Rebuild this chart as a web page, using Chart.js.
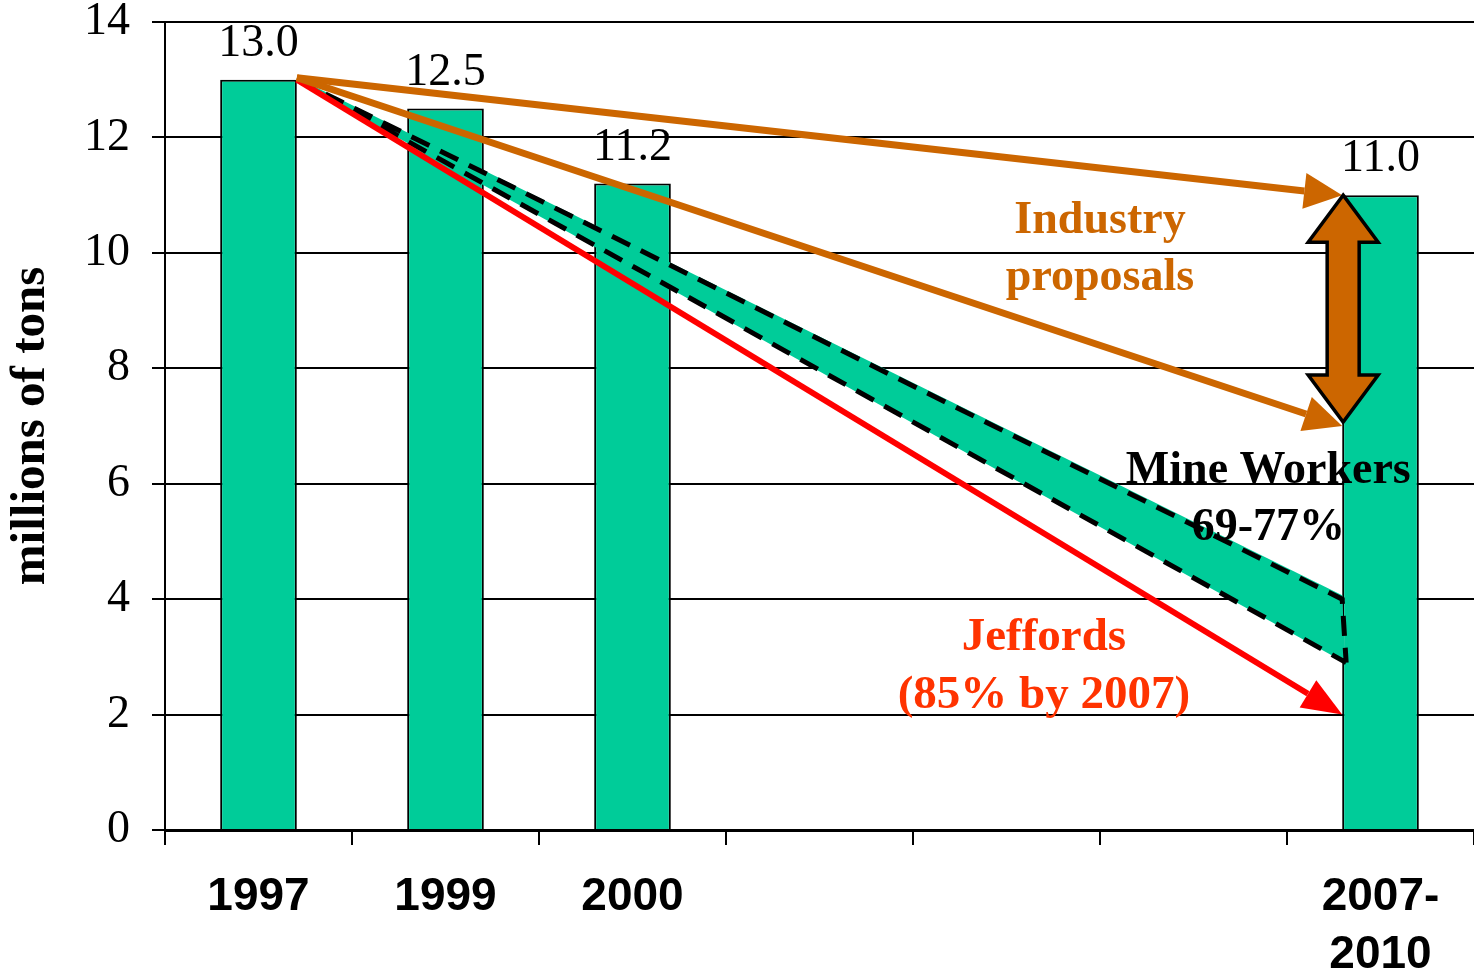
<!DOCTYPE html>
<html>
<head>
<meta charset="utf-8">
<title>millions of tons</title>
<script src="https://cdn.jsdelivr.net/npm/chart.js@4"></script>
<style>
body { margin: 0; background: #fff; }
</style>
</head>
<body>
<canvas id="myChart" width="1474" height="977"></canvas>
<script>
// données
var years = ['1997', '1999', '2000', '', '', '', ['2007-', '2010']];
var tons = [13.0, 12.5, 11.2, null, null, null, 11.0];
var yTicks = [0, 2, 4, 6, 8, 10, 12, 14];

// objectifs pour 2007-2010 (millions de tonnes)
var industryTargets = [11.0, 7.0];
var mineWorkersTargets = [4.0, 2.9];
var jeffordsTarget = 2.0;

var ORANGE = '#CC6600';
var TEAL = '#00CC99';

function arrowLine(ctx, x1, y1, x2, y2, color, width, headLen, headWidth) {
    var ang = Math.atan2(y2 - y1, x2 - x1);
    var bx = x2 - headLen * Math.cos(ang);
    var by = y2 - headLen * Math.sin(ang);
    ctx.strokeStyle = color;
    ctx.lineWidth = width;
    ctx.lineCap = 'butt';
    ctx.beginPath();
    ctx.moveTo(x1, y1);
    ctx.lineTo(bx, by);
    ctx.stroke();
    ctx.fillStyle = color;
    ctx.beginPath();
    ctx.moveTo(x2, y2);
    ctx.lineTo(bx + headWidth / 2 * Math.sin(ang), by - headWidth / 2 * Math.cos(ang));
    ctx.lineTo(bx - headWidth / 2 * Math.sin(ang), by + headWidth / 2 * Math.cos(ang));
    ctx.closePath();
    ctx.fill();
}

// flèches, bande et textes
var annotations = {
    id: 'annotations',
    afterDatasetsDraw: function(chart) {
        var ctx = chart.ctx;
        var x = chart.scales.x;
        var y = chart.scales.y;
        var bars = chart.getDatasetMeta(0).data;
        var first = bars[0];
        var last = bars[bars.length - 1];

        var sx = first.x + first.width / 2;
        var sy = y.getPixelForValue(tons[0]);
        var ex = last.x - last.width / 2;

        ctx.save();

        // bande Mine Workers
        var yUp = y.getPixelForValue(mineWorkersTargets[0]);
        var yLow = y.getPixelForValue(mineWorkersTargets[1]);
        ctx.fillStyle = TEAL;
        ctx.beginPath();
        ctx.moveTo(sx, sy - 2);
        ctx.lineTo(ex, yUp - 4);
        ctx.lineTo(ex + 3, yLow);
        ctx.lineTo(sx, sy + 2);
        ctx.closePath();
        ctx.fill();

        ctx.strokeStyle = '#000';
        ctx.lineWidth = 5;
        ctx.setLineDash([20, 12]);
        ctx.beginPath();
        ctx.moveTo(sx, sy);
        ctx.lineTo(ex, yUp);
        ctx.lineTo(ex + 4, yLow);
        ctx.moveTo(sx, sy);
        ctx.lineTo(ex + 4, yLow);
        ctx.stroke();
        ctx.setLineDash([]);

        // Jeffords
        arrowLine(ctx, sx, sy, ex, y.getPixelForValue(jeffordsTarget), '#FF0000', 6, 40, 32);

        // Industry
        arrowLine(ctx, sx, sy - 2, ex, y.getPixelForValue(industryTargets[0]), ORANGE, 7, 38, 36);
        arrowLine(ctx, sx, sy - 2, ex, y.getPixelForValue(industryTargets[1]), ORANGE, 7, 38, 36);

        // double flèche
        var yt = y.getPixelForValue(industryTargets[0]);
        var yb = y.getPixelForValue(industryTargets[1]) - 4;
        var cx = ex + 1;
        var hw = 35, sw = 16, hl = 47;
        ctx.beginPath();
        ctx.moveTo(cx, yt);
        ctx.lineTo(cx + hw, yt + hl);
        ctx.lineTo(cx + sw, yt + hl);
        ctx.lineTo(cx + sw, yb - hl);
        ctx.lineTo(cx + hw, yb - hl);
        ctx.lineTo(cx, yb);
        ctx.lineTo(cx - hw, yb - hl);
        ctx.lineTo(cx - sw, yb - hl);
        ctx.lineTo(cx - sw, yt + hl);
        ctx.lineTo(cx - hw, yt + hl);
        ctx.closePath();
        ctx.fillStyle = ORANGE;
        ctx.fill();
        ctx.strokeStyle = '#000';
        ctx.lineWidth = 3.5;
        ctx.lineJoin = 'miter';
        ctx.stroke();

        // valeurs au-dessus des barres
        ctx.fillStyle = '#000';
        ctx.font = '46px "Liberation Serif", "Times New Roman", serif';
        ctx.textAlign = 'center';
        ctx.textBaseline = 'alphabetic';
        bars.forEach(function(bar, i) {
            if (tons[i] == null) return;
            ctx.fillText(tons[i].toFixed(1), bar.x, bar.y - 24);
        });

        // textes
        ctx.font = 'bold 46px "Liberation Serif", "Times New Roman", serif';
        ctx.fillStyle = ORANGE;
        ctx.fillText('Industry', x.getPixelForValue(4.5), y.getPixelForValue(10.34));
        ctx.fillText('proposals', x.getPixelForValue(4.5), y.getPixelForValue(9.36));

        ctx.fillStyle = '#000';
        ctx.fillText('Mine Workers', x.getPixelForValue(5.4), y.getPixelForValue(6.01));
        ctx.fillText('69-77%', x.getPixelForValue(5.4), y.getPixelForValue(5.03));

        ctx.font = 'bold 47px "Liberation Serif", "Times New Roman", serif';
        ctx.fillStyle = '#FF3300';
        ctx.fillText('Jeffords', x.getPixelForValue(4.2), y.getPixelForValue(3.12));
        ctx.fillText('(85% by 2007)', x.getPixelForValue(4.2), y.getPixelForValue(2.11));

        ctx.restore();
    }
};

var ctx = document.getElementById('myChart').getContext('2d');
var myChart = new Chart(ctx, {
    type: 'bar',
    data: {
        labels: years,
        datasets: [{
            data: tons,
            backgroundColor: TEAL,
            borderColor: '#000',
            borderWidth: 2,
            barPercentage: 0.41,
            categoryPercentage: 1
        }]
    },
    options: {
        responsive: false,
        animation: false,
        devicePixelRatio: 1,
        layout: { padding: { top: 22, right: 0, bottom: 0, left: 0 } },
        plugins: {
            legend: { display: false },
            tooltip: { enabled: false }
        },
        scales: {
            x: {
                offset: true,
                grid: {
                    display: true,
                    offset: true,
                    drawOnChartArea: false,
                    drawTicks: true,
                    tickLength: 15,
                    color: '#000',
                    lineWidth: 2
                },
                border: { display: true, color: '#000', width: 3 },
                ticks: {
                    color: '#000',
                    maxRotation: 0,
                    autoSkip: false,
                    padding: 24,
                    font: { family: '"Liberation Sans", Arial, sans-serif', size: 46, weight: 'bold', lineHeight: 1.25 }
                },
                afterFit: function(scale) { scale.height = 147; }
            },
            y: {
                min: 0,
                max: 14,
                afterBuildTicks: function(scale) {
                    scale.ticks = yTicks.map(function(v) { return { value: v }; });
                },
                grid: { color: '#000', lineWidth: 2, tickLength: 13 },
                border: { display: true, color: '#000', width: 2 },
                ticks: {
                    color: '#000',
                    padding: 22,
                    font: { family: '"Liberation Serif", "Times New Roman", serif', size: 46, lineHeight: 0.96 }
                },
                title: {
                    display: true,
                    text: 'millions of tons',
                    color: '#000',
                    padding: { top: 7, bottom: 0 },
                    font: { family: '"Liberation Serif", "Times New Roman", serif', size: 49, weight: 'bold', lineHeight: 1 }
                },
                afterFit: function(scale) {
                    scale.width = 165;
                    scale.paddingTop = 0;
                    scale.paddingBottom = 0;
                }
            }
        }
    },
    plugins: [annotations]
});
</script>
</body>
</html>
